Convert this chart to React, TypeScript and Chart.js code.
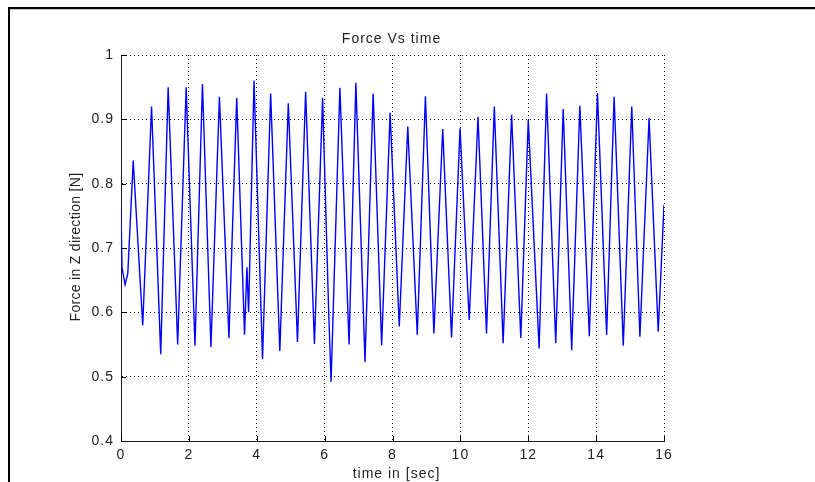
import React, { useEffect, useRef } from "react";
import { Chart, registerables } from "chart.js";

Chart.register(...registerables);

const times = [
  0, 0.03, 0.12, 0.2, 0.36, 0.64, 0.9, 1.17, 1.39, 1.67, 1.92, 2.18, 2.4, 2.65, 2.9, 3.18, 3.41, 3.64, 3.71, 3.76,
  3.92, 4.17, 4.41, 4.68, 4.93, 5.2, 5.44, 5.7, 5.94, 6.12, 6.19, 6.45, 6.72, 6.92, 7.19, 7.43, 7.68, 7.93, 8.2,
  8.45, 8.73, 8.97, 9.22, 9.48, 9.74, 9.99, 10.26, 10.52, 10.77, 11.0, 11.26, 11.51, 11.78, 12.0, 12.32, 12.54,
  12.81, 13.03, 13.28, 13.52, 13.8, 14.04, 14.31, 14.53, 14.8, 15.05, 15.29, 15.56, 15.83, 16,
];
const forces = [
  0.76, 0.67, 0.643, 0.66, 0.836, 0.58, 0.92, 0.535, 0.95, 0.55, 0.95, 0.548, 0.955, 0.546, 0.935, 0.56, 0.933,
  0.565, 0.67, 0.6, 0.96, 0.527, 0.94, 0.54, 0.925, 0.554, 0.943, 0.551, 0.933, 0.6, 0.492, 0.949, 0.55, 0.957,
  0.523, 0.94, 0.549, 0.91, 0.578, 0.889, 0.565, 0.936, 0.567, 0.885, 0.561, 0.886, 0.588, 0.904, 0.567, 0.92,
  0.552, 0.907, 0.56, 0.899, 0.544, 0.94, 0.552, 0.916, 0.541, 0.921, 0.563, 0.941, 0.565, 0.935, 0.548, 0.92,
  0.562, 0.902, 0.57, 0.767,
];

const xTicks = [0, 2, 4, 6, 8, 10, 12, 14, 16];
const yTicks = [0.4, 0.5, 0.6, 0.7, 0.8, 0.9, 1];

const titleText = "Force Vs time";
const xLabel = "time in [sec]";
const yLabel = "Force in Z direction [N]";

const FONT = '"Liberation Sans", Arial, sans-serif';

export default function App() {
  const ref = useRef<HTMLCanvasElement | null>(null);

  useEffect(() => {
    if (!ref.current) return;
    const deco = {
      id: "deco",
      beforeDraw(chart: any) {
        const ctx = chart.ctx;
        ctx.save();
        ctx.fillStyle = "#ffffff";
        ctx.fillRect(0, 0, chart.width, chart.height);
        ctx.fillStyle = "#000000";
        ctx.fillRect(8, 7, chart.width - 8, 2);
        ctx.fillRect(8, 7, 2, chart.height - 7);
        ctx.fillStyle = "#c8c8c8";
        ctx.fillRect(10, 9, chart.width - 10, 1);
        ctx.restore();
        (ctx as any).letterSpacing = "1px";
      },
      afterDraw(chart: any) {
        const ctx = chart.ctx;
        const a = chart.chartArea;
        const xs = chart.scales.x;
        const ys = chart.scales.y;
        ctx.save();
        ctx.strokeStyle = "#000000";
        ctx.lineWidth = 1;
        ctx.beginPath();
        for (const t of xTicks) {
          const px = Math.round(xs.getPixelForValue(t)) + 0.5;
          ctx.moveTo(px, a.bottom);
          ctx.lineTo(px, a.bottom - 5);
        }
        for (const t of yTicks) {
          const py = Math.round(ys.getPixelForValue(t)) + 0.5;
          ctx.moveTo(a.left, py);
          ctx.lineTo(a.left + 5, py);
        }
        ctx.stroke();
        (ctx as any).letterSpacing = "1px";
        ctx.fillStyle = "#222222";
        ctx.font = `14px ${FONT}`;
        ctx.textAlign = "center";
        ctx.textBaseline = "alphabetic";
        ctx.fillText(titleText, (a.left + a.right) / 2 - 1, 43);
        ctx.fillText(xLabel, (a.left + a.right) / 2 + 4, 478);
        (ctx as any).letterSpacing = "0.3px";
        ctx.translate(80, (a.top + a.bottom) / 2 - 1);
        ctx.rotate(-Math.PI / 2);
        ctx.fillText(yLabel, 0, 0);
        ctx.restore();
      },
    };

    const chart = new Chart(ref.current, {
      type: "line",
      data: {
        datasets: [
          {
            data: times.map((t, i) => ({ x: t, y: forces[i] })),
            borderColor: "#0000ff",
            borderWidth: 1.4,
            pointRadius: 0,
            tension: 0,
            fill: false,
          },
        ],
      },
      options: {
        animation: false,
        responsive: false,
        events: [],
        layout: { padding: { left: 0, top: 55, right: 151, bottom: 0 } },
        plugins: {
          legend: { display: false },
          title: { display: false },
          tooltip: { enabled: false },
        },
        scales: {
          x: {
            type: "linear",
            min: 0,
            max: 16,
            afterBuildTicks: (s: any) => {
              s.ticks = xTicks.map((v) => ({ value: v }));
            },
            afterFit: (s: any) => {
              s.height = 41;
            },
            ticks: {
              color: "#222222",
              font: { family: FONT, size: 14 },
              padding: 6,
              maxRotation: 0,
              callback: (v: any) => String(v),
            },
            grid: { color: "#000000", lineWidth: 1, drawTicks: false },
            border: { display: true, color: "#1a1a1a", width: 1, dash: [1, 3] },
          },
          y: {
            type: "linear",
            min: 0.4,
            max: 1,
            afterBuildTicks: (s: any) => {
              s.ticks = yTicks.map((v) => ({ value: v }));
            },
            afterFit: (s: any) => {
              s.width = 121;
            },
            ticks: {
              color: "#222222",
              font: { family: FONT, size: 14 },
              padding: 7,
              callback: (v: any) => String(Math.round(Number(v) * 10) / 10),
            },
            grid: { color: "#000000", lineWidth: 1, drawTicks: false },
            border: { display: true, color: "#1a1a1a", width: 1, dash: [1, 3] },
          },
        },
      },
      plugins: [deco],
    } as any);
    return () => chart.destroy();
  }, []);

  return (
    <div style={{ position: "absolute", left: 0, top: 0, width: 815, height: 482 }}>
      <canvas ref={ref} width={815} height={482} style={{ display: "block", width: 815, height: 482 }} />
    </div>
  );
}
